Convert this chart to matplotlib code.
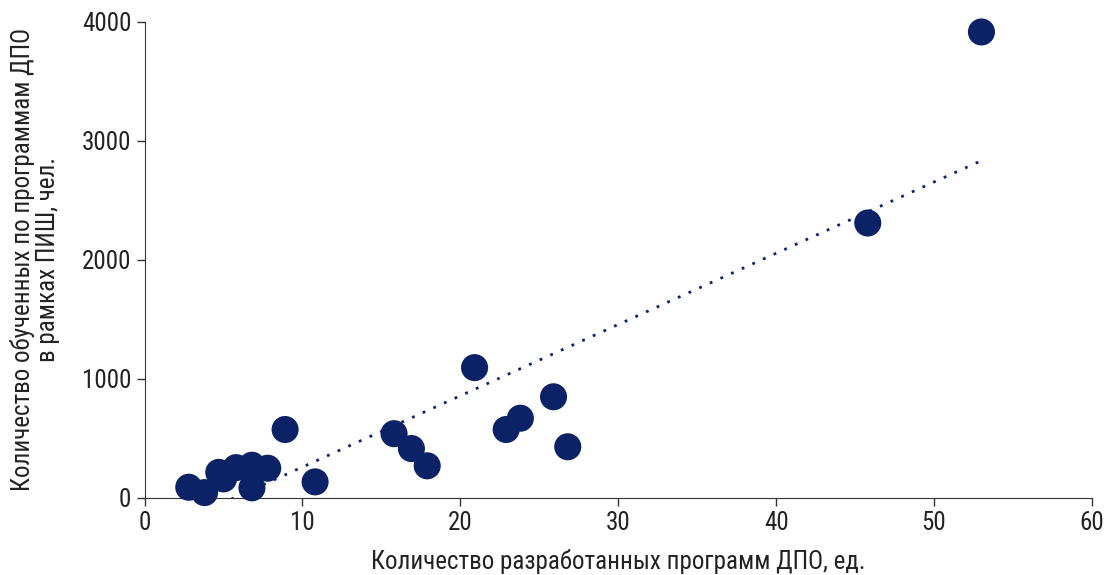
import matplotlib
matplotlib.use("Agg")
import matplotlib.pyplot as plt
import numpy as np

# Data
programs = [2.8, 3.8, 4.7, 5.0, 5.8, 6.8, 6.8, 7.8, 8.9, 10.8, 15.8, 16.9, 17.9, 20.9, 22.9, 23.8, 25.9, 26.8, 45.8, 53.0]
trained = [90, 45, 215, 160, 255, 275, 85, 250, 575, 135, 540, 415, 270, 1095, 575, 670, 850, 430, 2310, 3915]
x_ticks = [0, 10, 20, 30, 40, 50, 60]
y_ticks = [0, 1000, 2000, 3000, 4000]

color = "#0c2266"

plt.rcParams['font.family'] = ['Roboto Condensed', 'DejaVu Sans']

fig = plt.figure(figsize=(11.12, 5.75), dpi=100)
ax = fig.add_axes([0.130, 0.134, 0.852, 0.828])

ax.scatter(programs, trained, s=380, color=color, edgecolors='none', zorder=3, clip_on=False)

coef = np.polyfit(programs, trained, 1)
xs = np.array([min(programs), max(programs)])
ax.plot(xs, np.polyval(coef, xs), linestyle=(0, (1, 3.2)), color=color, lw=2.0, zorder=2)

ax.set_xlim(0, 60)
ax.set_ylim(0, 4000)
ax.set_xticks(x_ticks)
ax.set_yticks(y_ticks)
ax.tick_params(labelsize=18, length=6, width=1, color='#333333', labelcolor='#222222')
for s in ['top', 'right']:
    ax.spines[s].set_visible(False)
for s in ['left', 'bottom']:
    ax.spines[s].set_color('#333333')
ax.set_xlabel("Количество разработанных программ ДПО, ед.", fontsize=18, color='#222222', labelpad=10)
ax.set_ylabel("Количество обученных по программам ДПО\nв рамках ПИШ, чел.", fontsize=18, color='#222222', labelpad=16, linespacing=1.05)

fig.savefig("out.png", dpi=100)
